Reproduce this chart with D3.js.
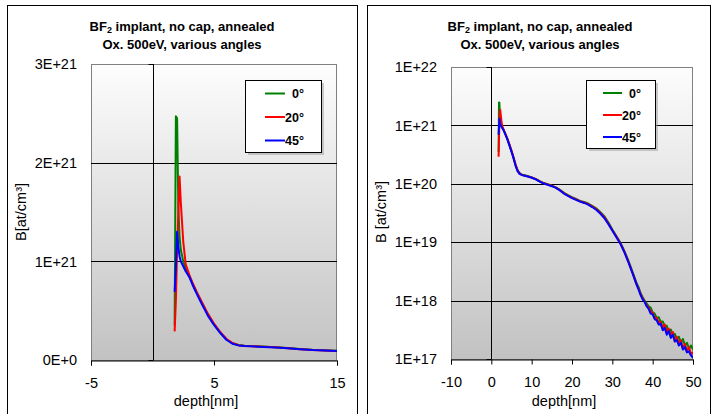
<!DOCTYPE html>
<html><head><meta charset="utf-8">
<script src="https://cdn.jsdelivr.net/npm/d3@7"></script>
<style>body{margin:0;background:#fff}svg{display:block;font-family:Arial,"Liberation Sans",sans-serif}</style>
</head><body><svg id="c" width="711" height="414"></svg>
<script>
// ---- data ----
const depth=[1.8,1.9,2.0,2.1,2.2,2.3,2.5,2.7,3.0,3.3,3.6,4.0,4.5,5.0,5.5,6.0,6.5,7.0,7.5,8,
 9,10,11,12,13,14,15,16,17,18,19,20,21,22,23,24,25,26,27,28,29,30,31,32,33,34,
 35,35.5,36,36.5,37,37.5,38,38.5,39,39.5,40,40.5,41,41.5,42,42.5,43,43.5,44,44.5,45,45.5,46,46.5,47,47.5,48,48.5,49,49.5,50];
const seriesNames=["0°","20°","45°"];
const b0=[3.5e20,2.47e21,2.45e21,1.55e21,1.25e21,1.12e21,1.0e21,9.3e20,8.5e20,7.6e20,6.8e20,5.8e20,4.6e20,3.6e20,2.8e20,2.1e20,1.7e20,1.52e20,1.45e20,1.41e20,
 1.36e20,1.29e20,1.21e20,1.11e20,1.03e20,9.8e19,9.3e19,8.7e19,7.9e19,7.0e19,6.4e19,5.9e19,5.5e19,5.1e19,4.9e19,4.6e19,4.2e19,3.8e19,3.3e19,2.8e19,2.2e19,1.65e19,1.28e19,9.8e18,7.0e18,4.8e18,
 3.1e18,2.5e18,2.0e18,1.7e18,1.35e18,1.15e18,1.0e18,9.0e17,8.0e17,7.6e17,6.3e17,6.0e17,5.0e17,5.2e17,4.3e17,4.4e17,3.6e17,3.7e17,2.9e17,3.2e17,2.6e17,2.7e17,2.2e17,2.4e17,1.9e17,2.2e17,1.7e17,1.9e17,1.5e17,1.7e17,1.45e17];
const b20=[2.9e20,6.0e20,1.1e21,1.5e21,1.86e21,1.6e21,1.2e21,9.7e20,8.6e20,7.7e20,6.9e20,5.9e20,4.7e20,3.7e20,2.85e20,2.15e20,1.72e20,1.5e20,1.43e20,1.4e20,
 1.34e20,1.28e20,1.2e20,1.1e20,1.02e20,9.7e19,9.2e19,8.6e19,7.8e19,6.9e19,6.3e19,5.8e19,5.4e19,5.0e19,4.8e19,4.5e19,4.1e19,3.7e19,3.2e19,2.7e19,2.1e19,1.6e19,1.25e19,9.6e18,6.9e18,4.6e18,
 3.0e18,2.4e18,1.9e18,1.6e18,1.28e18,1.1e18,9.6e17,8.3e17,7.6e17,6.5e17,6.2e17,5.0e17,5.1e17,4.2e17,4.3e17,3.4e17,3.9e17,2.9e17,3.3e17,2.5e17,2.9e17,2.0e17,2.4e17,1.8e17,2.1e17,1.5e17,1.8e17,1.35e17,1.6e17,1.2e17,1.3e17];
const b45=[6.9e20,9.5e20,1.30e21,1.15e21,1.05e21,1.0e21,9.5e20,9.0e20,8.4e20,7.5e20,6.7e20,5.7e20,4.5e20,3.55e20,2.75e20,2.05e20,1.65e20,1.48e20,1.42e20,1.39e20,
 1.33e20,1.27e20,1.19e20,1.09e20,1.01e20,9.6e19,9.1e19,8.5e19,7.7e19,6.8e19,6.2e19,5.7e19,5.3e19,4.95e19,4.7e19,4.4e19,4.0e19,3.6e19,3.1e19,2.6e19,2.05e19,1.58e19,1.22e19,9.4e18,6.7e18,4.5e18,
 2.95e18,2.35e18,1.9e18,1.55e18,1.25e18,1.05e18,9.5e17,8.0e17,7.2e17,6.0e17,5.8e17,4.8e17,4.6e17,3.9e17,4.0e17,3.1e17,3.4e17,2.6e17,3.0e17,2.3e17,2.6e17,2.0e17,2.1e17,1.7e17,1.9e17,1.45e17,1.6e17,1.3e17,1.35e17,1.15e17,1.05e17];
const seriesValues=[b0,b20,b45];
const seriesColors=["#008000","#ff0000","#0000ff"];

const leftXTicks=[-5,5,15];
const leftYTicks=[0,1e21,2e21,3e21];
const leftYLabels=["0E+0","1E+21","2E+21","3E+21"];
const rightXTicks=[-10,0,10,20,30,40,50];
const rightYTicks=[1e17,1e18,1e19,1e20,1e21,1e22];
const rightYLabels=["1E+17","1E+18","1E+19","1E+20","1E+21","1E+22"];

const svg=d3.select("#c");
const defs=svg.append("defs");
const g=defs.append("linearGradient").attr("id","bg").attr("x1",0).attr("y1",0).attr("x2",0).attr("y2",1);
g.append("stop").attr("offset","0%").attr("stop-color","#fdfdfd");
g.append("stop").attr("offset","100%").attr("stop-color","#c2c2c2");

function panel(o){
  const root=svg.append("g");
  root.append("rect").attr("x",o.frame[0]+0.5).attr("y",o.frame[1]+0.5).attr("width",o.frame[2]-o.frame[0]).attr("height",o.frame[3]-o.frame[1])
    .attr("fill","#fff").attr("stroke","#000");
  const x=d3.scaleLinear().domain(o.xDomain).range([o.l,o.r]);
  const y=(o.log?d3.scaleLog():d3.scaleLinear()).domain(o.yDomain).range([o.b,o.t]);
  root.append("rect").attr("x",o.l).attr("y",o.t).attr("width",o.r-o.l).attr("height",o.b-o.t).attr("fill","url(#bg)");
  root.append("rect").attr("x",o.l+0.5).attr("y",o.t+0.5).attr("width",o.r-o.l-1).attr("height",o.b-o.t).attr("fill","none").attr("stroke","#808080");
  root.selectAll(".gl").data(o.yTicks.slice(1,-1)).enter().append("line")
    .attr("x1",o.l).attr("x2",o.r).attr("y1",d=>Math.round(y(d))+0.5).attr("y2",d=>Math.round(y(d))+0.5).attr("stroke","#000").attr("stroke-width",1);
  const x0=Math.round(x(0))+0.5;
  root.append("line").attr("x1",x0).attr("x2",x0).attr("y1",o.t).attr("y2",o.b).attr("stroke","#000");
  root.selectAll(".yt").data(o.yTicks).enter().append("line")
    .attr("x1",x0-5).attr("x2",x0).attr("y1",d=>Math.round(y(d))+0.5).attr("y2",d=>Math.round(y(d))+0.5).attr("stroke","#000");
  const xa=d3.axisBottom(x).tickValues(o.xTicks).tickSize(5).tickFormat(d3.format("d"));
  const xg=root.append("g").attr("transform",`translate(0,${Math.round(o.b)+0.5})`).call(xa);
  xg.select(".domain").attr("stroke","#000");
  xg.selectAll(".tick line").attr("stroke","#000");
  xg.selectAll("text").attr("font-size","14.5px").attr("fill","#000").attr("dy",null).attr("y",27)
    .text(d=>d<0?"-"+Math.abs(d):d);
  root.selectAll(".yl").data(o.yTicks).enter().append("text")
    .attr("x",o.yLabelX).attr("y",d=>y(d)).attr("dy","0.36em").attr("text-anchor","end")
    .attr("font-size","14.5px").text((d,i)=>o.yLabels[i]);
  const cid="clip"+o.id;
  defs.append("clipPath").attr("id",cid).append("rect").attr("x",o.l).attr("y",o.t-30).attr("width",o.r-o.l).attr("height",o.b-o.t+30);
  const line=d3.line().x((d,i)=>x(depth[i])).y(d=>y(d));
  const lg=root.append("g").attr("clip-path",`url(#${cid})`);
  seriesValues.forEach((vals,k)=>{
    lg.append("path").attr("d",line(vals)).attr("fill","none").attr("stroke",seriesColors[k]).attr("stroke-width",2).attr("stroke-linejoin","round");
  });
  const t=root.append("text").attr("x",o.titleX).attr("y",31).attr("text-anchor","middle").attr("font-weight","bold").attr("font-size","13px");
  t.append("tspan").text("BF");
  t.append("tspan").attr("font-size","9px").attr("dy",2).text("2");
  t.append("tspan").attr("dy",-2).text(" implant, no cap, annealed");
  root.append("text").attr("x",o.titleX).attr("y",48.5).attr("text-anchor","middle").attr("font-weight","bold").attr("font-size","13px").text("Ox. 500eV, various angles");
  root.append("text").attr("x",(o.l+o.r)/2-8).attr("y",406).attr("text-anchor","middle").attr("font-size","14.5px").text("depth[nm]");
  root.append("text").attr("transform",`translate(${o.yTitleX},212) rotate(-90)`).attr("text-anchor","middle").attr("font-size","14.5px").text(o.yTitle);
  const L=o.legend;
  root.append("rect").attr("x",L[0]+3).attr("y",L[1]+3).attr("width",L[2]-L[0]).attr("height",L[3]-L[1]).attr("fill","#9a9a9a").attr("opacity",0.5);
  root.append("rect").attr("x",L[0]+0.5).attr("y",L[1]+0.5).attr("width",L[2]-L[0]).attr("height",L[3]-L[1]).attr("fill","#fff").attr("stroke","#000");
  seriesNames.forEach((n,k)=>{
    const yy=L[1]+o.legStart+k*o.legStep;
    root.append("line").attr("x1",o.legLine[0]).attr("x2",o.legLine[1]).attr("y1",yy).attr("y2",yy).attr("stroke",seriesColors[k]).attr("stroke-width",2);
    root.append("text").attr("x",o.legTextEnd).attr("y",yy).attr("dy","0.36em").attr("text-anchor","end").attr("font-weight","bold").attr("font-size","12.5px").text(n);
  });
}

panel({id:"L",frame:[7,5,357,420],l:91,r:337,t:64,b:360,xDomain:[-5,15],yDomain:[0,3e21],log:false,
  xTicks:leftXTicks,yTicks:leftYTicks,yLabels:leftYLabels,yLabelX:77,titleX:182,yTitle:"B[at/cm³]",yTitleX:26,
  legend:[245,80,321,152],legStart:13.5,legStep:23.5,legLine:[265,285],legTextEnd:304});
panel({id:"R",frame:[367,5,710,420],l:451,r:693,t:67,b:359,xDomain:[-10,50],yDomain:[1e17,1e22],log:true,
  xTicks:rightXTicks,yTicks:rightYTicks,yLabels:rightYLabels,yLabelX:437,titleX:540,yTitle:"B [at/cm³]",yTitleX:386,
  legend:[586,80,655,148],legStart:13,legStep:22,legLine:[603,622],legTextEnd:641});
</script></body></html>
